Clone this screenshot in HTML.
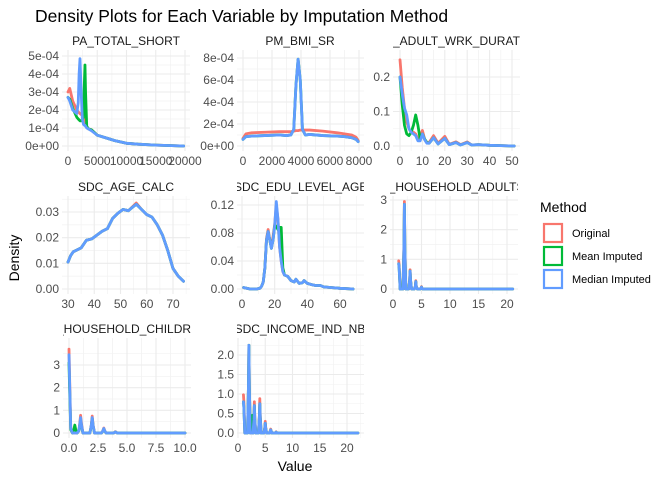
<!DOCTYPE html>
<html><head><meta charset="utf-8"><style>
body{margin:0;background:#fff}
svg{display:block;font-family:"Liberation Sans",sans-serif}
</style></head><body>
<svg id="chart" width="672" height="480" viewBox="0 0 672 480" xmlns="http://www.w3.org/2000/svg">
<text x="35" y="22" font-size="17.5" fill="#000">Density Plots for Each Variable by Imputation Method</text>
<text transform="translate(19,258) rotate(-90)" text-anchor="middle" font-size="14" fill="#000">Density</text>
<text x="295" y="471" text-anchor="middle" font-size="14" fill="#000">Value</text>
<g>
<text x="540" y="212" font-size="14" fill="#000">Method</text>
<rect x="544" y="224" width="18" height="18" fill="none" stroke="#F8766D" stroke-width="2.2"/>
<text x="572" y="237" font-size="11" fill="#000">Original</text>
<rect x="544" y="247" width="18" height="18" fill="none" stroke="#00BA38" stroke-width="2.2"/>
<text x="572" y="260" font-size="11" fill="#000">Mean Imputed</text>
<rect x="544" y="270" width="18" height="18" fill="none" stroke="#619CFF" stroke-width="2.2"/>
<text x="572" y="283" font-size="11" fill="#000">Median Imputed</text>
</g>
<g id="panels"></g>
</svg>
<script>
// ---- data ----
const paX = [0,300,800,1500,1750,1900,2050,2250,2450,2650,2800,2900,3000,3200,3500,4000,5000,6000,8000,10000,12000,15000,19770];
const paOrig = [3.0,3.2,2.5,2.0,1.9,1.85,1.8,1.75,1.7,1.6,1.4,1.25,1.15,1.05,0.95,0.9,0.6,0.5,0.3,0.15,0.1,0.05,0].map(v=>v*1e-4);
const paMean = [2.7,2.6,2.1,1.6,1.5,1.45,1.4,1.4,1.45,1.6,3.5,4.5,3.0,1.1,0.95,0.9,0.6,0.5,0.3,0.15,0.1,0.05,0].map(v=>v*1e-4);
const paMed = [2.7,2.5,2.0,1.8,2.4,4.0,4.85,3.0,1.5,1.2,1.15,1.15,1.1,1.0,0.95,0.85,0.6,0.5,0.3,0.15,0.1,0.05,0].map(v=>v*1e-4);

const bmiX = [0,200,600,1500,2500,3000,3300,3500,3650,3800,3950,4100,4300,4600,5500,6500,7000,7500,7800,7945];
const bmiOrig = [0.7,1.1,1.2,1.25,1.3,1.3,1.3,1.35,1.4,1.4,1.45,1.45,1.45,1.45,1.35,1.2,1.1,1.0,0.8,0.5].map(v=>v*1e-4);
const bmiMean = [0.6,0.85,0.9,0.95,1.0,0.95,1.0,1.5,5.5,7.9,6.0,1.5,1.0,1.05,0.95,0.9,0.85,0.75,0.6,0.4].map(v=>v*1e-4);
const bmiMed = [0.6,0.85,0.9,0.95,1.0,0.95,1.0,1.5,5.5,7.9,6.0,1.5,1.0,1.05,0.95,0.9,0.85,0.75,0.6,0.4].map(v=>v*1e-4);

const wrkX = [0,1,2,3,4,5,6,7,8,9,10,11,12,13,15,17,20,22,25,27,30,32,35,40,45,51];
const wrkOrig = [0.25,0.17,0.11,0.07,0.05,0.04,0.04,0.035,0.02,0.025,0.045,0.02,0.01,0.01,0.03,0.008,0.028,0.005,0.012,0.004,0.012,0.003,0.004,0.002,0.001,0];
const wrkMean = [0.20,0.12,0.06,0.035,0.03,0.04,0.06,0.09,0.06,0.02,0.035,0.02,0.01,0.008,0.024,0.006,0.022,0.004,0.01,0.003,0.01,0.003,0.004,0.002,0.001,0];
const wrkMed = [0.20,0.15,0.11,0.09,0.05,0.04,0.035,0.03,0.015,0.015,0.035,0.018,0.008,0.008,0.024,0.006,0.022,0.004,0.01,0.003,0.01,0.003,0.004,0.002,0.001,0];

const ageX = [30,31,32,33,35,37,39,41,43,45,47,49,51,53,55,56,58,60,62,64,66,68,70,72,74];
const ageOrig = [0.0105,0.013,0.0145,0.015,0.016,0.019,0.0195,0.021,0.0225,0.0235,0.0275,0.0295,0.031,0.0305,0.0325,0.0335,0.031,0.029,0.028,0.025,0.021,0.015,0.008,0.005,0.003];
const ageMean = [0.0105,0.013,0.0145,0.015,0.016,0.019,0.0195,0.021,0.0225,0.0235,0.0275,0.0295,0.031,0.0305,0.0322,0.033,0.031,0.029,0.028,0.025,0.021,0.015,0.008,0.005,0.003];
const ageMed = [0.0105,0.013,0.0145,0.015,0.016,0.019,0.0195,0.021,0.0225,0.0235,0.0275,0.0295,0.031,0.0305,0.0322,0.033,0.031,0.029,0.028,0.025,0.021,0.015,0.008,0.005,0.003];

const eduX = [1,5,9,11,12,13,14,15,16,17,18,19,20,21,22,23,24,25,26,28,30,32,33,35,37,38,40,43,45,48,50,55,60,68];
const eduOrig = [0.002,0,0,0.001,0.004,0.01,0.03,0.072,0.085,0.07,0.06,0.075,0.092,0.12,0.10,0.06,0.04,0.025,0.02,0.018,0.012,0.01,0.014,0.008,0.009,0.012,0.008,0.006,0.005,0.005,0.003,0.002,0.001,0];
const eduMean = [0.002,0,0,0.001,0.004,0.01,0.03,0.07,0.082,0.07,0.058,0.07,0.09,0.09,0.085,0.088,0.088,0.03,0.02,0.018,0.012,0.01,0.014,0.008,0.009,0.012,0.008,0.006,0.005,0.005,0.003,0.002,0.001,0];
const eduMed = [0.002,0,0,0.001,0.004,0.01,0.03,0.07,0.082,0.07,0.058,0.07,0.09,0.125,0.10,0.06,0.04,0.025,0.02,0.018,0.012,0.01,0.014,0.008,0.009,0.012,0.008,0.006,0.005,0.005,0.003,0.002,0.001,0];

const adX = [1,1.08,1.25,1.75,1.92,2,2.08,2.25,2.75,2.92,3,3.08,3.25,3.75,3.92,4,4.08,4.25,4.75,4.92,5,5.08,5.25,21];
const adOrig = [0.95,0.8,0,0,1.5,2.95,1.5,0,0,0.3,0.65,0.3,0,0,0.1,0.28,0.1,0,0,0.03,0.08,0.03,0,0];
const adMean = [0.85,0.7,0,0,1.4,2.85,1.4,0,0,0.28,0.6,0.28,0,0,0.08,0.25,0.08,0,0,0.02,0.06,0.02,0,0];
const adMed = [0.85,0.7,0,0,1.4,2.85,1.4,0,0,0.28,0.6,0.28,0,0,0.08,0.25,0.08,0,0,0.02,0.06,0.02,0,0];

const chX = [0,0.05,0.15,0.3,0.42,0.5,0.58,0.7,0.85,0.92,1,1.08,1.2,1.8,1.92,2,2.08,2.2,2.8,2.92,3,3.08,3.2,3.85,4,4.15,10];
const chOrig = [3.7,2.5,0.2,0,0,0,0,0,0.1,0.4,0.78,0.4,0,0,0.35,0.75,0.35,0,0,0.1,0.22,0.1,0,0,0.06,0,0];
const chMean = [3.1,2.0,0.15,0,0.15,0.35,0.15,0,0.1,0.3,0.6,0.3,0,0,0.3,0.65,0.3,0,0,0.08,0.18,0.08,0,0,0.05,0,0];
const chMed = [3.45,2.3,0.2,0,0,0,0,0,0.1,0.35,0.68,0.35,0,0,0.32,0.68,0.32,0,0,0.09,0.2,0.09,0,0,0.05,0,0];

const incX = [1,1.08,1.25,1.75,1.92,2,2.08,2.25,2.6,2.75,2.92,3,3.08,3.25,3.75,3.92,4,4.08,4.25,4.75,4.92,5,5.08,5.25,5.8,6,6.2,6.9,7,7.1,22];
const incOrig = [0.98,0.8,0,0,1.2,2.25,1.2,0,0,0,0.4,0.8,0.4,0,0,0.45,0.88,0.45,0,0,0.15,0.3,0.15,0,0,0.1,0,0,0.03,0,0];
const incMean = [0.8,0.65,0,0,1.2,2.25,1.2,0,0.45,0,0.35,0.7,0.35,0,0,0.4,0.75,0.4,0,0,0.12,0.25,0.12,0,0,0.08,0,0,0.02,0,0];
const incMed = [0.8,0.65,0,0,1.2,2.25,1.2,0,0,0,0.35,0.7,0.35,0,0,0.4,0.75,0.4,0,0,0.12,0.25,0.12,0,0,0.08,0,0,0.02,0,0];

// tick values and labels
const paXTicks = [0,5000,10000,15000,20000];
const paXLabels = ["0","5000","10000","15000","20000"];
const paYTicks = [0,1e-4,2e-4,3e-4,4e-4,5e-4];
const paYLabels = ["0e+00","1e-04","2e-04","3e-04","4e-04","5e-04"];
const bmiXTicks = [0,2000,4000,6000,8000];
const bmiXLabels = ["0","2000","4000","6000","8000"];
const bmiYTicks = [0,2e-4,4e-4,6e-4,8e-4];
const bmiYLabels = ["0e+00","2e-04","4e-04","6e-04","8e-04"];
const wrkXTicks = [0,10,20,30,40,50];
const wrkXLabels = ["0","10","20","30","40","50"];
const wrkYTicks = [0,0.1,0.2];
const wrkYLabels = ["0.0","0.1","0.2"];
const ageXTicks = [30,40,50,60,70];
const ageXLabels = ["30","40","50","60","70"];
const ageYTicks = [0,0.01,0.02,0.03];
const ageYLabels = ["0.00","0.01","0.02","0.03"];
const eduXTicks = [0,20,40,60];
const eduXLabels = ["0","20","40","60"];
const eduYTicks = [0,0.04,0.08,0.12];
const eduYLabels = ["0.00","0.04","0.08","0.12"];
const adXTicks = [0,5,10,15,20];
const adXLabels = ["0","5","10","15","20"];
const adYTicks = [0,1,2,3];
const adYLabels = ["0","1","2","3"];
const chXTicks = [0,2.5,5,7.5,10];
const chXLabels = ["0.0","2.5","5.0","7.5","10.0"];
const chYTicks = [0,1,2,3];
const chYLabels = ["0","1","2","3"];
const incXTicks = [0,5,10,15,20];
const incXLabels = ["0","5","10","15","20"];
const incYTicks = [0,0.5,1,1.5,2];
const incYLabels = ["0.0","0.5","1.0","1.5","2.0"];

const colors = ["#F8766D","#00BA38","#619CFF"];
const NS = "http://www.w3.org/2000/svg";
const root = document.getElementById('panels');

function mk(tag, attrs, parent){
  const e = document.createElementNS(NS, tag);
  for (const k in attrs) e.setAttribute(k, attrs[k]);
  parent.appendChild(e);
  return e;
}
function scale(v0,p0,v1,p1){ return v => p0 + (v - v0) * (p1 - p0) / (v1 - v0); }

const panels = [
 {id:'pa', title:'PA_TOTAL_SHORT', tx:126, anchor:'middle', rect:[62,50,190,151], xm:[0,68,20000,185], ym:[0,146,5e-4,56], x:paX, s:[paOrig,paMean,paMed], xt:paXTicks, xl:paXLabels, yt:paYTicks, yl:paYLabels},
 {id:'bmi', title:'PM_BMI_SR', tx:300, anchor:'middle', rect:[237,50,364,151], xm:[0,243,8000,359], ym:[0,146,8e-4,58], x:bmiX, s:[bmiOrig,bmiMean,bmiMed], xt:bmiXTicks, xl:bmiXLabels, yt:bmiYTicks, yl:bmiYLabels},
 {id:'wrk', title:'E_ADULT_WRK_DURATION', tx:385, anchor:'start', rect:[393,50,520,151], xm:[0,400,50,512], ym:[0,146,0.2,77], x:wrkX, s:[wrkOrig,wrkMean,wrkMed], xt:wrkXTicks, xl:wrkXLabels, yt:wrkYTicks, yl:wrkYLabels},
 {id:'age', title:'SDC_AGE_CALC', tx:126, anchor:'middle', rect:[62,196,190,294], xm:[30,68,70,173], ym:[0,289,0.03,212], x:ageX, s:[ageOrig,ageMean,ageMed], xt:ageXTicks, xl:ageXLabels, yt:ageYTicks, yl:ageYLabels},
 {id:'edu', title:'SDC_EDU_LEVEL_AGE', tx:234, anchor:'start', rect:[237,196,364,294], xm:[0,242,60,340], ym:[0,289,0.12,205], x:eduX, s:[eduOrig,eduMean,eduMed], xt:eduXTicks, xl:eduXLabels, yt:eduYTicks, yl:eduYLabels},
 {id:'adults', title:'C_HOUSEHOLD_ADULTS_NB', tx:380, anchor:'start', rect:[390,196,518,294], xm:[0,393,20,507], ym:[0,289,3,200], x:adX, s:[adOrig,adMean,adMed], xt:adXTicks, xl:adXLabels, yt:adYTicks, yl:adYLabels},
 {id:'children', title:'_HOUSEHOLD_CHILDREN_NB', tx:57, anchor:'start', rect:[63,338,191,438], xm:[0,69,10,185], ym:[0,433,3,365], x:chX, s:[chOrig,chMean,chMed], xt:chXTicks, xl:chXLabels, yt:chYTicks, yl:chYLabels},
 {id:'income', title:'SDC_INCOME_IND_NB', tx:300, anchor:'middle', rect:[237,338,364,438], xm:[0,238,20,347], ym:[0,433,2,355], x:incX, s:[incOrig,incMean,incMed], xt:incXTicks, xl:incXLabels, yt:incYTicks, yl:incYLabels}
];
const seriesNames = ['original','mean-imputed','median-imputed'];

panels.forEach(p => {
  const [x0,y0,x1,y1] = p.rect;
  const sx = scale(p.xm[0],p.xm[1],p.xm[2],p.xm[3]);
  const sy = scale(p.ym[0],p.ym[1],p.ym[2],p.ym[3]);
  const g = mk('g', {}, root);
  
  
  const cps = mk('clipPath', {id:'clips-'+p.id}, g);
  mk('rect', {x:x0, y:y0-20, width:x1-x0, height:20}, cps);
  for (let i=0;i<p.xt.length;i++){
    const step = p.xt[1]-p.xt[0];
    [p.xt[i]-step/2, p.xt[i]+step/2].forEach(v=>{
      const px = sx(v);
      if (px>x0 && px<x1) mk('line',{x1:px,x2:px,y1:y0,y2:y1,stroke:'#f2f2f2','stroke-width':0.6},g);
    });
  }
  for (let i=0;i<p.yt.length;i++){
    const step = p.yt[1]-p.yt[0];
    [p.yt[i]-step/2, p.yt[i]+step/2].forEach(v=>{
      const py = sy(v);
      if (py>y0 && py<y1) mk('line',{x1:x0,x2:x1,y1:py,y2:py,stroke:'#f2f2f2','stroke-width':0.6},g);
    });
  }
  p.xt.forEach((v,i)=>{
    const px = sx(v);
    if (px>=x0-0.5 && px<=x1+1.5) mk('line',{x1:px,x2:px,y1:y0,y2:y1,stroke:'#ebebeb','stroke-width':1.1},g);
    const t = mk('text',{x:px,y:y1+14,'text-anchor':'middle','font-size':12,fill:'#4d4d4d'},g);
    
    
    t.textContent = p.xl[i];
  });
  p.yt.forEach((v,i)=>{
    const py = sy(v);
    mk('line',{x1:x0,x2:x1,y1:py,y2:py,stroke:'#ebebeb','stroke-width':1.1},g);
    const t = mk('text',{x:x0-3,y:py+4,'text-anchor':'end','font-size':12,fill:'#4d4d4d'},g);
    
    
    t.textContent = p.yl[i];
  });
  const st = mk('text',{x:p.tx,y:y0-5,'text-anchor':p.anchor,'font-size':12,fill:'#1a1a1a','clip-path':'url(#clips-'+p.id+')'},g);
  
  
  st.textContent = p.title;
  p.s.forEach((ys,k)=>{
    const pts = p.x.map((xv,i)=> sx(xv).toFixed(2)+','+sy(ys[i]).toFixed(2)).join(' ');
    const pl = mk('polyline',{points:pts,fill:'none',stroke:colors[k],'stroke-width':2.8,'stroke-linejoin':'round','stroke-linecap':'round'},g);
    
    
  });
});
</script>
</body></html>
